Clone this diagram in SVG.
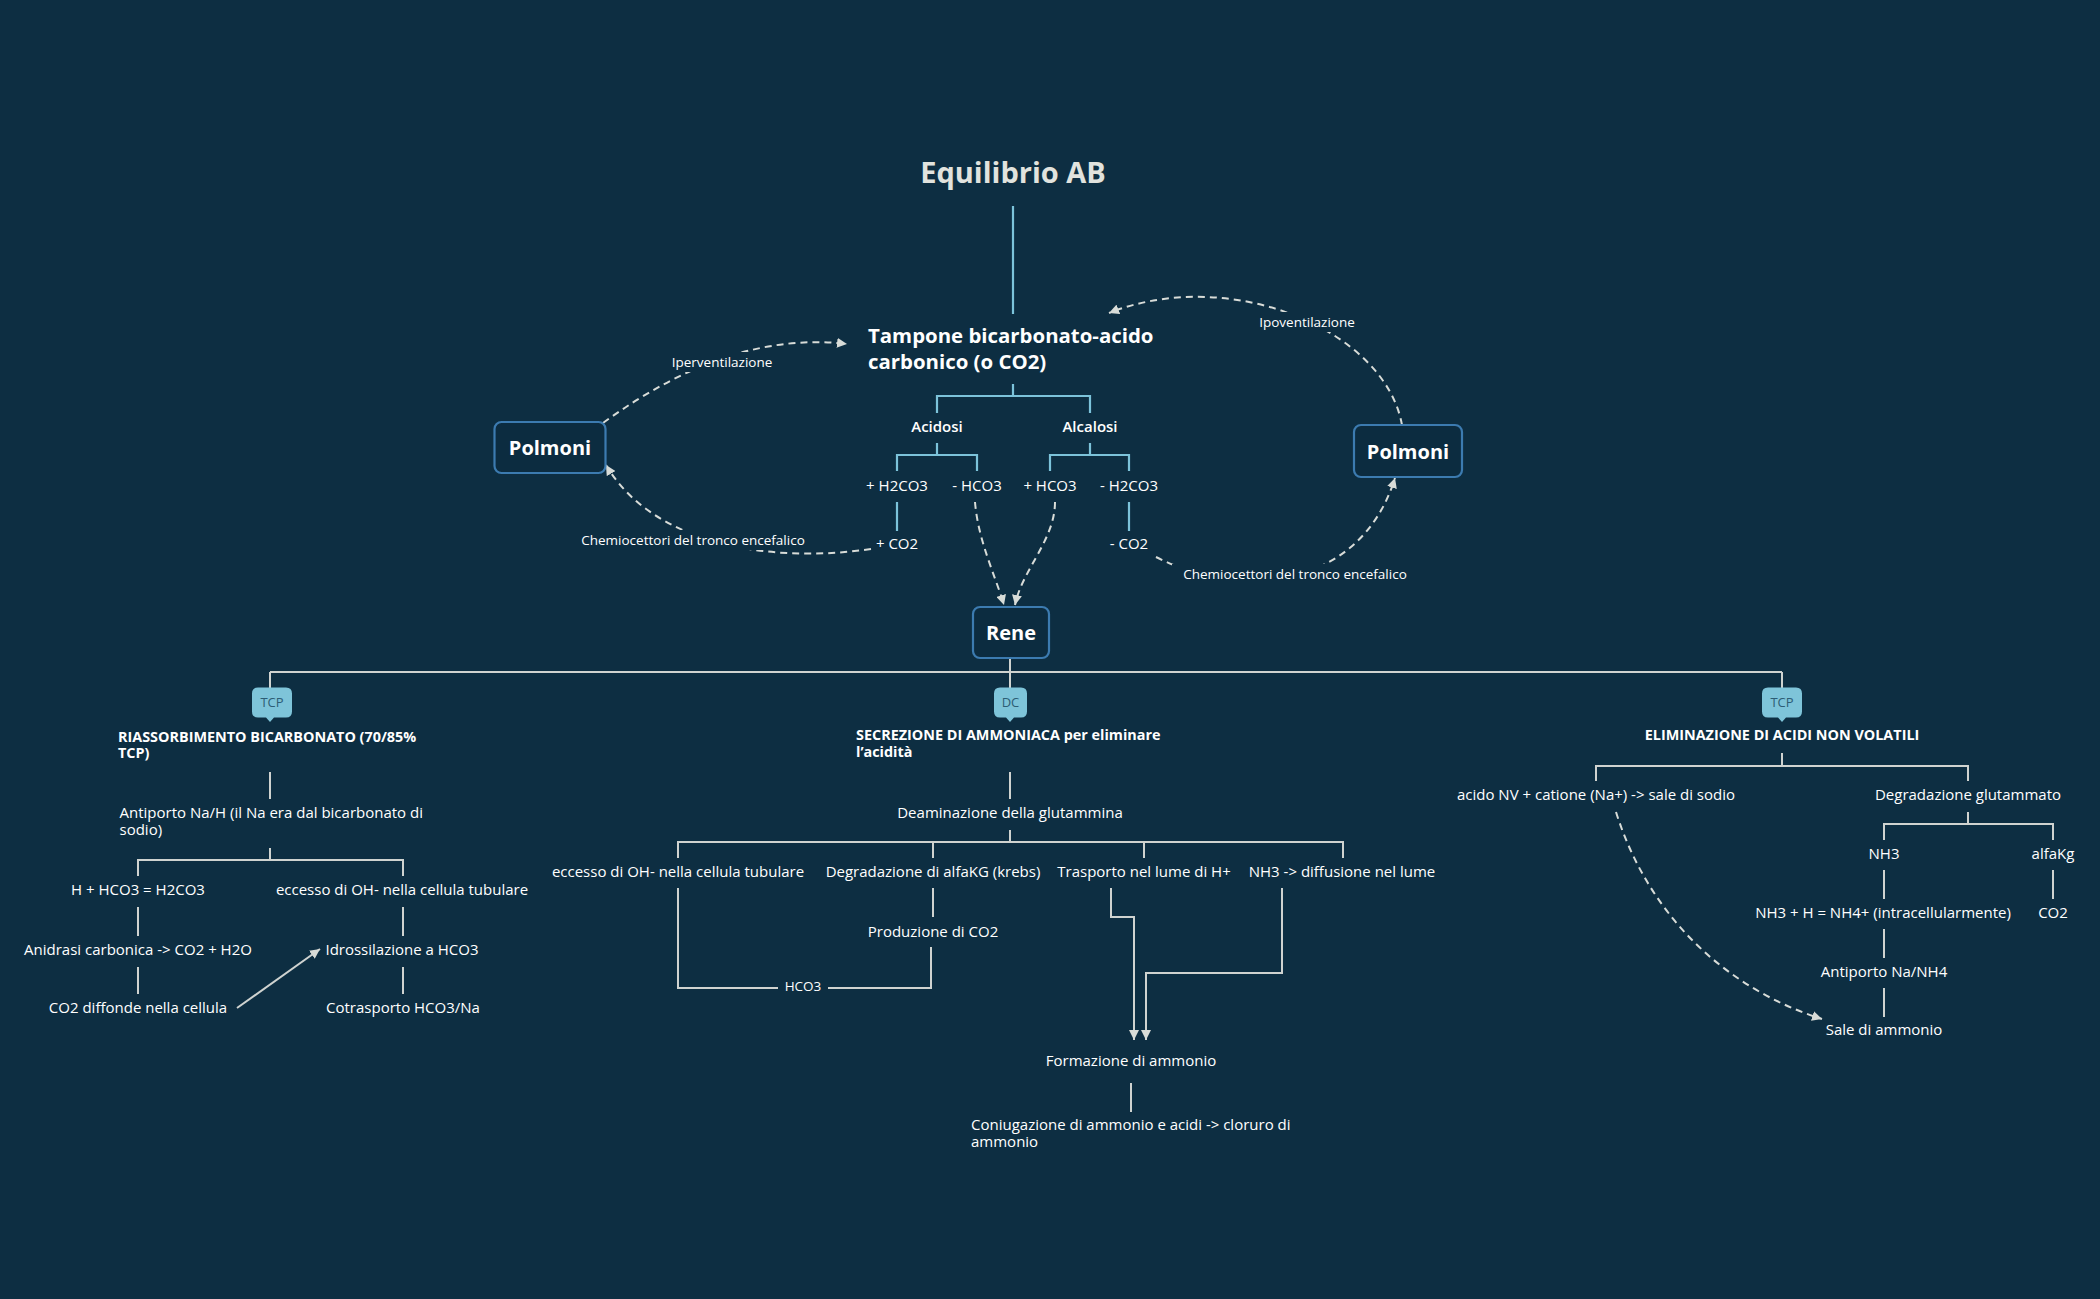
<svg xmlns="http://www.w3.org/2000/svg" width="2100" height="1299" viewBox="0 0 2100 1299">
<defs>
<style>
text{font-family:"Open Sans","Liberation Sans",sans-serif;fill:#ffffff;font-weight:500}
.s{font-size:15px}
.c{text-anchor:middle}
.b{font-weight:700;font-size:14.4px}
.sm{font-size:13.5px}
.semi{font-weight:600}
.title{font-size:29px;font-weight:700;fill:#e1e3de}
.main{font-size:20px;font-weight:700}
.tamp{font-size:20.4px;font-weight:700}
.node{fill:#0c2c40;stroke:#3c7bb0;stroke-width:2.2}
.badge{fill:#7ec4d9}
.btxt{font-size:13px;fill:#2d5d75;text-anchor:middle;font-weight:400}
.blue{fill:none;stroke:#7cc3da;stroke-width:2.2}
.gray{fill:none;stroke:#cfd3d0;stroke-width:2}
.dash{fill:none;stroke:#d8dcd8;stroke-width:2;stroke-dasharray:7 5}
.bg{fill:#0d2e42}
</style>
<marker id="ah" markerUnits="userSpaceOnUse" markerWidth="11" markerHeight="10" refX="10" refY="5" orient="auto">
<path d="M0,0 L10,5 L0,10 z" fill="#d8dcd8"/>
</marker>
</defs>
<rect width="2100" height="1299" fill="#0d2e42"/>

<g id="connectors">
<path class="blue" d="M1013,206 V314"/>
<path class="blue" d="M1013,384 V396 M937,413 V396 H1090 V413"/>
<path class="blue" d="M937,443 V455 M897,471 V455 H977 V471"/>
<path class="blue" d="M1090,443 V455 M1050,471 V455 H1129 V471"/>
<path class="blue" d="M897,502 V531 M1129,502 V531"/>
<path class="dash" d="M975,502 C978,540 995,575 1004,605" marker-end="url(#ah)"/>
<path class="dash" d="M1055,502 C1055,540 1022,570 1015,605" marker-end="url(#ah)"/>
<path class="dash" d="M603,423 Q730,330 847,344" marker-end="url(#ah)"/>
<path class="dash" d="M1402,425 C1385,330 1230,265 1109,313" marker-end="url(#ah)"/>
<path class="dash" d="M871,549 C760,565 650,540 606,465" marker-end="url(#ah)"/>
<path class="dash" d="M1156,557 C1240,600 1360,590 1395,478" marker-end="url(#ah)"/>
<rect class="bg" x="664" y="352" width="116" height="20"/>
<rect class="bg" x="1252" y="312" width="110" height="20"/>
<rect class="bg" x="570" y="530" width="246" height="20"/>
<rect class="bg" x="1172" y="564" width="246" height="20"/>
<text class="sm c" x="722" y="367">Iperventilazione</text>
<text class="sm c" x="1307" y="327">Ipoventilazione</text>
<text class="sm c" x="693" y="545">Chemiocettori del tronco encefalico</text>
<text class="sm c" x="1295" y="579">Chemiocettori del tronco encefalico</text>

<path class="gray" d="M1010,658 V672 M270,672 H1782 M270,672 V688 M1010,672 V688 M1782,672 V688"/>
<path class="gray" d="M270,772 V799 M270,848 V860 M138,876 V860 H403 V876"/>
<path class="gray" d="M138,907 V936 M403,907 V936 M138,967 V994 M403,967 V994"/>
<path class="gray" d="M237,1008 L320,949" marker-end="url(#ah)"/>
<path class="gray" d="M1010,772 V799 M1010,830 V842 M678,858 V842 H1343 V858 M933,842 V858 M1144,842 V858"/>
<path class="gray" d="M933,888 V917"/>
<path class="gray" d="M931,947 V988 H678 V888"/>
<rect class="bg" x="778" y="978" width="50" height="18"/>
<text class="sm c" x="803" y="991">HCO3</text>
<path class="gray" d="M1111,888 V917 H1134 V1040" marker-end="url(#ah)"/>
<path class="gray" d="M1282,888 V973 H1146 V1040" marker-end="url(#ah)"/>
<path class="gray" d="M1131,1083 V1112"/>
<path class="gray" d="M1782,753 V766 M1596,781 V766 H1968 V781 M1968,812 V824 M1884,840 V824 H2053 V840"/>
<path class="gray" d="M1884,870 V899 M2053,870 V899 M1884,929 V958 M1884,988 V1017"/>
<path class="dash" d="M1616,812 C1650,920 1730,990 1822,1019" marker-end="url(#ah)"/>
</g>

<g id="title"><text class="title c" x="1013" y="183">Equilibrio AB</text></g>
<g id="tampone"><text class="tamp" x="868" y="343">Tampone bicarbonato-acido</text><text class="tamp" x="868" y="369">carbonico (o CO2)</text></g>
<g id="acidosi"><text class="s c semi" x="937" y="432">Acidosi</text></g>
<g id="alcalosi"><text class="s c semi" x="1090" y="432">Alcalosi</text></g>
<g id="plus-h2co3"><text class="s c" x="897" y="491">+ H2CO3</text></g>
<g id="minus-hco3"><text class="s c" x="977" y="491">- HCO3</text></g>
<g id="plus-hco3"><text class="s c" x="1050" y="491">+ HCO3</text></g>
<g id="minus-h2co3"><text class="s c" x="1129" y="491">- H2CO3</text></g>
<g id="plus-co2"><text class="s c" x="897" y="549">+ CO2</text></g>
<g id="minus-co2"><text class="s c" x="1129" y="549">- CO2</text></g>
<g id="polmoni-l"><rect class="node" x="494.5" y="422" width="111" height="51" rx="7"/><text class="main c" x="550" y="455">Polmoni</text></g>
<g id="polmoni-r"><rect class="node" x="1354" y="425" width="108" height="52" rx="7"/><text class="main c" x="1408" y="459">Polmoni</text></g>
<g id="rene"><rect class="node" x="973" y="607" width="76" height="51" rx="7"/><text class="main c" x="1011" y="640">Rene</text></g>

<g id="badge-tcp-l"><path class="badge" d="M258,687.5 H286 Q292,687.5 292,693.5 V711.5 Q292,717.5 286,717.5 H274 L270,722 L266,717.5 H258 Q252,717.5 252,711.5 V693.5 Q252,687.5 258,687.5 Z"/><text class="btxt" x="272" y="707">TCP</text></g>
<g id="badge-dc"><path class="badge" d="M1000,687.5 H1021 Q1027,687.5 1027,693.5 V711.5 Q1027,717.5 1021,717.5 H1014 L1010,722 L1006,717.5 H1000 Q994,717.5 994,711.5 V693.5 Q994,687.5 1000,687.5 Z"/><text class="btxt" x="1010.5" y="707">DC</text></g>
<g id="badge-tcp-r"><path class="badge" d="M1768,687.5 H1796 Q1802,687.5 1802,693.5 V711.5 Q1802,717.5 1796,717.5 H1786 L1782,722 L1778,717.5 H1768 Q1762,717.5 1762,711.5 V693.5 Q1762,687.5 1768,687.5 Z"/><text class="btxt" x="1782" y="707">TCP</text></g>

<g id="riassorbimento"><text class="b" x="118" y="742">RIASSORBIMENTO BICARBONATO (70/85%</text><text class="b" x="118" y="758">TCP)</text></g>
<g id="antiporto-nah"><text class="s" x="119.5" y="818">Antiporto Na/H (il Na era dal bicarbonato di</text><text class="s" x="119.5" y="835">sodio)</text></g>
<g id="h-hco3"><text class="s c" x="138" y="895">H + HCO3 = H2CO3</text></g>
<g id="eccesso-l"><text class="s c" x="402" y="895">eccesso di OH- nella cellula tubulare</text></g>
<g id="anidrasi"><text class="s c" x="138" y="955">Anidrasi carbonica -&gt; CO2 + H2O</text></g>
<g id="idrossilazione"><text class="s c" x="402" y="955">Idrossilazione a HCO3</text></g>
<g id="co2-diffonde"><text class="s c" x="138" y="1013">CO2 diffonde nella cellula</text></g>
<g id="cotrasporto"><text class="s c" x="403" y="1013">Cotrasporto HCO3/Na</text></g>

<g id="secrezione"><text class="b" x="856" y="740">SECREZIONE DI AMMONIACA per eliminare</text><text class="b" x="856" y="757">l’acidità</text></g>
<g id="deaminazione"><text class="s c" x="1010" y="818">Deaminazione della glutammina</text></g>
<g id="eccesso-m"><text class="s c" x="678" y="877">eccesso di OH- nella cellula tubulare</text></g>
<g id="degradazione-akg"><text class="s c" x="933" y="877">Degradazione di alfaKG (krebs)</text></g>
<g id="trasporto"><text class="s c" x="1144" y="877">Trasporto nel lume di H+</text></g>
<g id="nh3-diffusione"><text class="s c" x="1342" y="877">NH3 -&gt; diffusione nel lume</text></g>
<g id="produzione-co2"><text class="s c" x="933" y="937">Produzione di CO2</text></g>
<g id="formazione"><text class="s c" x="1131" y="1066">Formazione di ammonio</text></g>
<g id="coniugazione"><text class="s" x="971" y="1130">Coniugazione di ammonio e acidi -&gt; cloruro di</text><text class="s" x="971" y="1147">ammonio</text></g>

<g id="eliminazione"><text class="b c" x="1782" y="740">ELIMINAZIONE DI ACIDI NON VOLATILI</text></g>
<g id="acido-nv"><text class="s c" x="1596" y="800">acido NV + catione (Na+) -&gt; sale di sodio</text></g>
<g id="degradazione-glu"><text class="s c" x="1968" y="800">Degradazione glutammato</text></g>
<g id="nh3"><text class="s c" x="1884" y="859">NH3</text></g>
<g id="alfakg"><text class="s c" x="2053" y="859">alfaKg</text></g>
<g id="nh3-h"><text class="s c" x="1883" y="918">NH3 + H = NH4+ (intracellularmente)</text></g>
<g id="co2-r"><text class="s c" x="2053" y="918">CO2</text></g>
<g id="antiporto-nanh4"><text class="s c" x="1884" y="977">Antiporto Na/NH4</text></g>
<g id="sale-ammonio"><text class="s c" x="1884" y="1035">Sale di ammonio</text></g>
</svg>
